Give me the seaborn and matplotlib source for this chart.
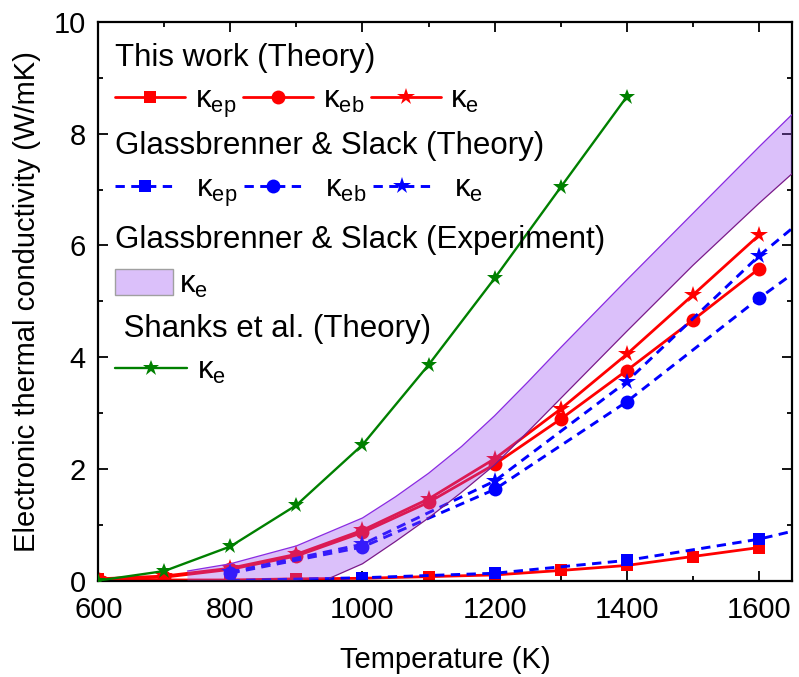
import numpy as np
import matplotlib
matplotlib.use("Agg")
import matplotlib.pyplot as plt
from matplotlib.ticker import MultipleLocator
from matplotlib.lines import Line2D
from matplotlib.patches import Patch
import seaborn as sns

# ---------------- data ----------------
T_red = [600, 700, 800, 900, 1000, 1100, 1200, 1300, 1400, 1500, 1600]
red_ep = [0.02, 0.01, 0.01, 0.03, 0.04, 0.07, 0.10, 0.18, 0.27, 0.43, 0.59]
red_eb = [0.03, 0.06, 0.20, 0.44, 0.86, 1.40, 2.08, 2.89, 3.76, 4.66, 5.58]
red_e = [0.03, 0.08, 0.22, 0.47, 0.90, 1.46, 2.18, 3.07, 4.05, 5.11, 6.18]

T_blue = [800, 1000, 1200, 1400, 1600, 1650]
blue_ep = [0.00, 0.05, 0.13, 0.36, 0.74, 0.88]
blue_eb = [0.13, 0.60, 1.63, 3.20, 5.05, 5.48]
blue_e = [0.15, 0.65, 1.78, 3.56, 5.81, 6.30]

T_band = [735, 800, 900, 950, 1000, 1050, 1100, 1150, 1200, 1250, 1300, 1400, 1500, 1600, 1650]
band_low = [0.00, 0.00, 0.00, 0.04, 0.30, 0.70, 1.12, 1.58, 2.07, 2.66, 3.26, 4.46, 5.64, 6.75, 7.28]
band_high = [0.17, 0.30, 0.62, 0.87, 1.12, 1.50, 1.92, 2.40, 2.95, 3.55, 4.17, 5.38, 6.57, 7.76, 8.34]

T_green = [600, 700, 800, 900, 1000, 1100, 1200, 1300, 1400]
green_e = [0.00, 0.17, 0.61, 1.35, 2.43, 3.86, 5.41, 7.04, 8.66]

title_this = "This work (Theory)"
title_gs_th = "Glassbrenner & Slack (Theory)"
title_gs_ex = "Glassbrenner & Slack (Experiment)"
title_sh = " Shanks et al. (Theory)"
subs = ["ep", "eb", "e"]
xlabel = "Temperature (K)"
ylabel = "Electronic thermal conductivity (W/mK)"

# ---------------- style ----------------
sns.set_theme(style="ticks")
plt.rcParams["font.family"] = ["Liberation Sans", "DejaVu Sans"]
plt.rcParams["mathtext.fontset"] = "custom"
plt.rcParams["mathtext.rm"] = "Liberation Sans"
plt.rcParams["text.color"] = "black"
plt.rcParams["axes.labelcolor"] = "black"
plt.rcParams["axes.linewidth"] = 1.6

RED = "#ff0000"
BLUE = "#0000ff"
GREEN = "#008000"
FILL = (0.6, 0.3, 0.95, 0.35)

fig = plt.figure(figsize=(7.99, 6.77), dpi=100)
ax = fig.add_axes([0.123, 0.1425, 0.868, 0.825])

dash = (3.2, 2.2)

# red (this work)
for vals, mk, ms in [(red_ep, "s", 9), (red_eb, "o", 10), (red_e, "*", 13)]:
    sns.lineplot(x=T_red, y=vals, ax=ax, color=RED, lw=2.0, marker=mk, markersize=ms,
                 markeredgewidth=0, estimator=None, sort=False, legend=False, zorder=2)

# blue dashed (Glassbrenner & Slack theory)
for vals, mk, ms, me in [(blue_ep, "s", 9, [1, 2, 3, 4]), (blue_eb, "o", 10, [0, 1, 2, 3, 4]),
                         (blue_e, "*", 13, [0, 1, 2, 3, 4])]:
    sns.lineplot(x=T_blue, y=vals, ax=ax, color=BLUE, lw=2.1, marker=mk, markersize=ms,
                 markeredgewidth=0, markevery=me, dashes=False, estimator=None, sort=False,
                 legend=False, zorder=2)
for line in ax.lines[3:6]:
    line.set_dashes(dash)

# experimental band
ax.fill_between(T_band, band_low, band_high, facecolor=FILL, edgecolor="none", zorder=3)
ax.plot(T_band, band_high, color="#8a2be2", lw=0.9, zorder=3)
ax.plot(T_band[3:], band_low[3:], color="#7a1a8a", lw=0.9, zorder=3)

# green (Shanks)
sns.lineplot(x=T_green, y=green_e, ax=ax, color=GREEN, lw=1.7, marker="*", markersize=12,
             markeredgewidth=0, estimator=None, sort=False, legend=False, zorder=4)

# ---------------- axes ----------------
ax.set_xlim(600, 1650)
ax.set_ylim(0, 10)
ax.xaxis.set_major_locator(MultipleLocator(200))
ax.xaxis.set_minor_locator(MultipleLocator(100))
ax.yaxis.set_major_locator(MultipleLocator(2))
ax.yaxis.set_minor_locator(MultipleLocator(1))
ax.tick_params(which="both", direction="in", top=True, right=True, width=1.3, colors="black",
               labelsize=21)
ax.tick_params(which="major", length=7.5)
ax.tick_params(which="minor", length=3.5)
ax.tick_params(axis="x", which="major", pad=11)
ax.tick_params(axis="y", which="major", pad=9)
for s in ax.spines.values():
    s.set_color("black")
    s.set_linewidth(1.6)
ax.set_xlabel(xlabel, fontsize=21, labelpad=16)
ax.set_ylabel(ylabel, fontsize=21, labelpad=9)

# ---------------- legends ----------------
def lab(s):
    return r"$\mathregular{κ_{%s}}$" % s

base = dict(frameon=False, loc="upper left", borderpad=0, borderaxespad=0, fontsize=22.5,
            title_fontsize=22.5, alignment="left", labelspacing=0.4)

h_red = [Line2D([], [], color=RED, lw=2.0, marker=m, ms=s, mew=0)
         for m, s in [("s", 9), ("o", 10), ("*", 13)]]
leg1 = ax.legend(h_red, [lab(s) for s in subs], ncol=3, title=title_this,
                 bbox_to_anchor=(0.024, 0.963), handlelength=2.25, handletextpad=0.3,
                 columnspacing=0.22, **base)
ax.add_artist(leg1)

h_blue = [Line2D([], [], color=BLUE, lw=2.1, ls=(0, dash), marker=m, ms=s, mew=0)
          for m, s in [("s", 9), ("o", 10), ("*", 13)]]
leg2 = ax.legend(h_blue, [lab(s) for s in subs], ncol=3, title=title_gs_th,
                 bbox_to_anchor=(0.024, 0.804), handlelength=1.9, handletextpad=0.7,
                 columnspacing=0.2, **base)
ax.add_artist(leg2)

h_band = [Patch(facecolor=FILL, edgecolor="#a0a0a0", lw=1.0)]
leg3 = ax.legend(h_band, [lab("e")], title=title_gs_ex, bbox_to_anchor=(0.024, 0.637),
                 handlelength=1.86, handleheight=0.92, handletextpad=0.2,
                 **{**base, "labelspacing": 0.45})
ax.add_artist(leg3)

h_green = [Line2D([], [], color=GREEN, lw=1.7, marker="*", ms=12, mew=0)]
leg4 = ax.legend(h_green, [lab("e")], title=title_sh, bbox_to_anchor=(0.024, 0.478),
                 handlelength=2.3, handletextpad=0.33, **base)

fig.savefig("out.png", dpi=100)
